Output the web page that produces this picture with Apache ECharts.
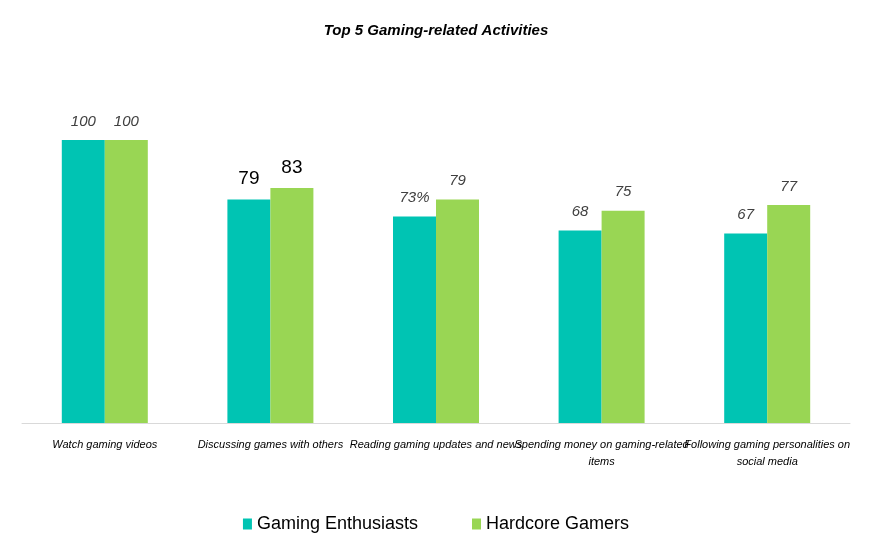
<!DOCTYPE html>
<html>
<head>
<meta charset="utf-8">
<script src="https://cdn.jsdelivr.net/npm/echarts@6/dist/echarts.min.js"></script>
<style>
  html, body { margin: 0; padding: 0; background: #fff; }
  #chart { width: 872px; height: 544px; }
</style>
</head>
<body>
<div id="chart"></div>
<script>
// 数据
var categories = [
    'Watch gaming videos',
    'Discussing games with others',
    'Reading gaming updates and news',
    'Spending money on gaming-related\nitems',
    'Following gaming personalities on\nsocial media'
];
var enthusiasts = [100, 79, 73, 68, 67];
var hardcore = [100, 83, 79, 75, 77];
// 标签文字（原图第三组带 %）
var enthusiastsLabels = ['100', '79', '73%', '68', '67'];
var hardcoreLabels = ['100', '83', '79', '75', '77'];

var scriptFont = '"Liberation Sans", Arial, sans-serif';

var myChart = echarts.init(document.getElementById('chart'));

// 第二组的标签用普通字体
var plainLabel = {
    fontFamily: 'Liberation Sans, Arial, sans-serif',
    fontStyle: 'normal',
    fontSize: 19,
    color: '#000'
};

function buildData(values, labels) {
    return values.map(function (v, i) {
        var item = { value: v, labelText: labels[i] };
        if (i === 1) {
            item.label = plainLabel;
        }
        return item;
    });
}

var baseLabel = {
    show: true,
    position: 'top',
    distance: 11,
    fontFamily: scriptFont,
    fontStyle: 'italic',
    fontSize: 15,
    color: '#404040',
    formatter: function (p) { return p.data.labelText; }
};

var option = {
    animation: false,
    title: {
        text: 'Top 5 Gaming-related Activities',
        left: 'center',
        top: 18,
        textStyle: {
            fontFamily: scriptFont,
            fontStyle: 'italic',
            fontWeight: 'bold',
            fontSize: 15,
            color: '#000'
        }
    },
    legend: {
        bottom: 6,
        left: 'center',
        itemWidth: 9,
        itemHeight: 11,
        itemGap: 54,
        icon: 'rect',
        textStyle: {
            fontFamily: 'Liberation Sans, Arial, sans-serif',
            fontSize: 18,
            color: '#000'
        },
        data: ['Gaming Enthusiasts', 'Hardcore Gamers']
    },
    grid: {
        left: 22,
        right: 22,
        top: 140,
        bottom: 121,
        containLabel: false
    },
    xAxis: {
        type: 'category',
        data: categories,
        axisLine: { lineStyle: { color: '#d9d9d9', width: 1 } },
        axisTick: { show: false },
        axisLabel: {
            interval: 0,
            margin: 13,
            fontFamily: scriptFont,
            fontStyle: 'italic',
            fontSize: 11,
            lineHeight: 17,
            color: '#000'
        }
    },
    yAxis: {
        type: 'value',
        min: 0,
        max: 100,
        show: false,
        splitLine: { show: false }
    },
    series: [
        {
            name: 'Gaming Enthusiasts',
            type: 'bar',
            barWidth: 43,
            barGap: '0%',
            itemStyle: { color: '#00C4B3' },
            label: baseLabel,
            data: buildData(enthusiasts, enthusiastsLabels)
        },
        {
            name: 'Hardcore Gamers',
            type: 'bar',
            barWidth: 43,
            barGap: '0%',
            itemStyle: { color: '#99D654' },
            label: baseLabel,
            data: buildData(hardcore, hardcoreLabels)
        }
    ]
};

myChart.setOption(option);
</script>
</body>
</html>
